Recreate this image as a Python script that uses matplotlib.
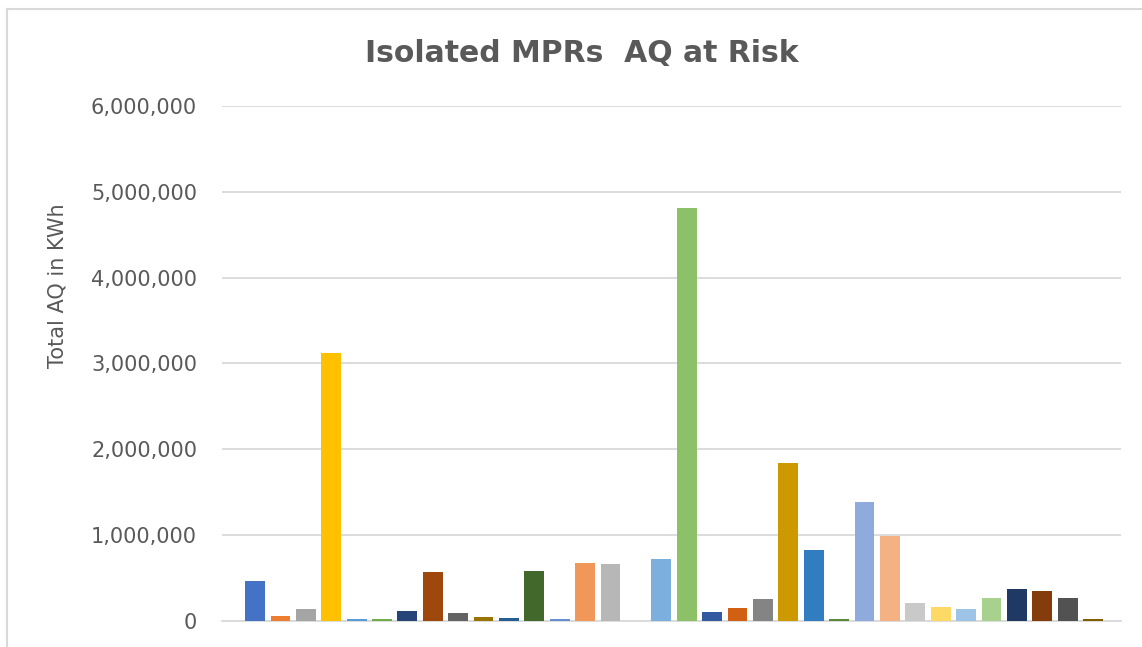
import matplotlib.pyplot as plt
import matplotlib.lines as mlines
from matplotlib.ticker import FuncFormatter

# one bar per isolated MPR group, value = total AQ (kWh)
aq_values = [460000, 55000, 133000, 3115000, 20000, 20000, 117000, 565000,
             90000, 43000, 28000, 578000, 20000, 670000, 658000, 0,
             716000, 4806000, 98000, 148000, 253000, 1833000, 821000, 18000,
             1389000, 988000, 203000, 160000, 133000, 265000, 370000, 347000,
             265000, 18000]

# Excel "vary colours by point" palette
bar_colors = ['#4472C4', '#ED7D31', '#A5A5A5', '#FFC000', '#5B9BD5', '#70AD47',
              '#264478', '#9E480E', '#636363', '#997300', '#255E91', '#43682B',
              '#698ED0', '#F1975A', '#B7B7B7', '#FFCD33', '#7CAFDD', '#8CC168',
              '#335AA1', '#D26012', '#848484', '#CC9A00', '#327DC2', '#5A8A39',
              '#8FAADC', '#F4B183', '#C9C9C9', '#FFD966', '#9DC3E6', '#A9D18E',
              '#203864', '#843C0C', '#525252', '#7F6000']

y_ticks = [0, 1000000, 2000000, 3000000, 4000000, 5000000, 6000000]

text_color = '#595959'
grid_color = '#D9D9D9'

fig = plt.figure(figsize=(11.42, 6.47), dpi=100)
ax = fig.add_axes([0.1944, 0.0406, 0.7872, 0.7956])

xs = list(range(len(aq_values)))
ax.bar(xs, aq_values, width=0.78, color=bar_colors, linewidth=0, zorder=3)

ax.set_xlim(-1.3, 34.1)
ax.set_ylim(0, 6000000)
ax.set_yticks(y_ticks)
ax.yaxis.set_major_formatter(FuncFormatter(lambda v, p: '{:,.0f}'.format(v)))
ax.tick_params(axis='y', length=0, pad=18, labelsize=15, labelcolor=text_color)
ax.set_xticks([])
ax.grid(axis='y', color=grid_color, linewidth=1.3, zorder=0)

for side in ['top', 'right', 'left']:
    ax.spines[side].set_visible(False)
ax.spines['bottom'].set_color(grid_color)
ax.spines['bottom'].set_linewidth(1.3)
ax.spines['bottom'].set_zorder(2)

ax.set_ylabel('Total AQ in KWh', fontsize=15, color=text_color)
ax.yaxis.set_label_coords(-0.1724, 0.65)

fig.text(0.5096, 0.917, 'Isolated MPRs  AQ at Risk', ha='center', va='center',
         fontsize=21.5, fontweight='bold', color=text_color)

# chart frame (partially visible in the screenshot)
fig.add_artist(mlines.Line2D([7 / 1142, 7 / 1142], [0, 1 - 9 / 647],
                             transform=fig.transFigure, color=grid_color, lw=1.5))
fig.add_artist(mlines.Line2D([7 / 1142, 1], [1 - 9 / 647, 1 - 9 / 647],
                             transform=fig.transFigure, color=grid_color, lw=1.5))

fig.savefig('out.png', dpi=100)
